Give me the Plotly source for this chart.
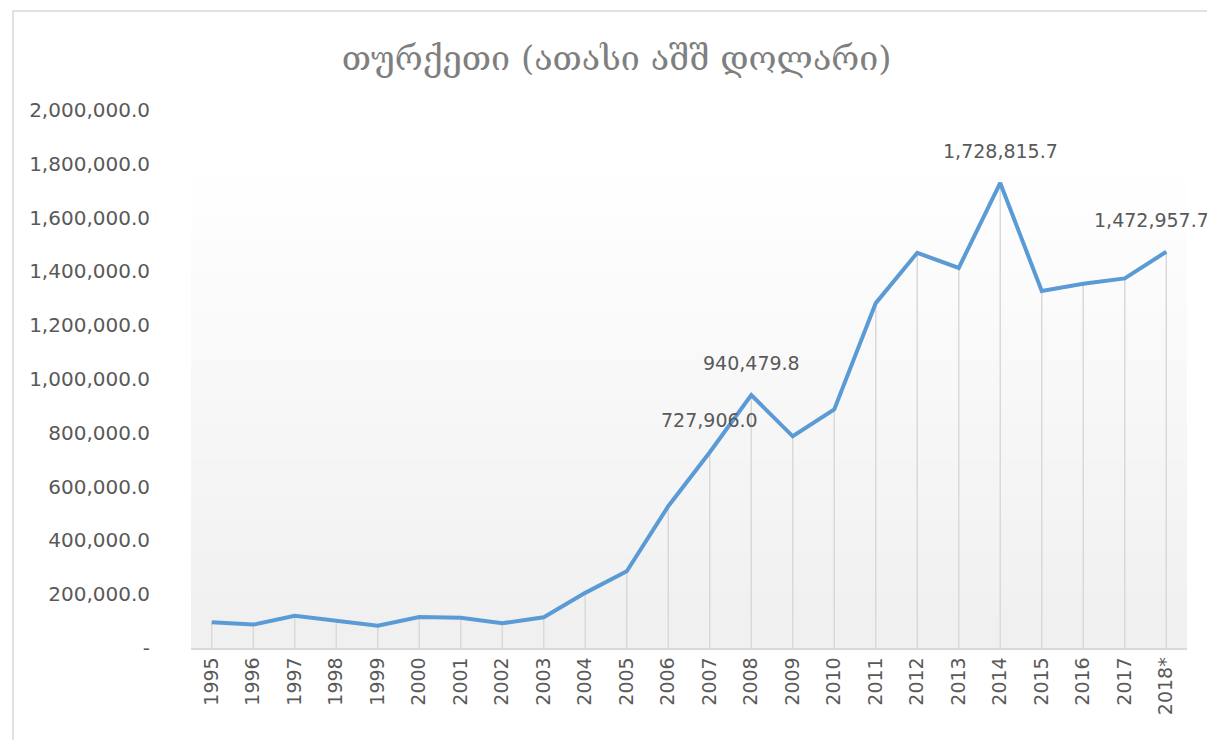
import plotly.graph_objects as go

years = ["1995", "1996", "1997", "1998", "1999", "2000", "2001", "2002",
         "2003", "2004", "2005", "2006", "2007", "2008", "2009", "2010",
         "2011", "2012", "2013", "2014", "2015", "2016", "2017", "2018*"]
values = [95600, 87000, 120000, 102000, 83000, 115000, 112000, 92000,
          114000, 205000, 285000, 527000, 727906.0, 940479.8, 787000, 887000,
          1282000, 1469000, 1413000, 1728815.7, 1327000, 1354000, 1374000, 1472957.7]
labelled = ["2007", "2008", "2014", "2018*"]
ytick_vals = [0, 200000, 400000, 600000, 800000, 1000000,
              1200000, 1400000, 1600000, 1800000, 2000000]

title = "თურქეთი (ათასი აშშ დოლარი)"
font = "DejaVu Sans"
grey_text = "#595959"

W, H = 1215, 740
L, R, T, B = 183, 36, 102, 100


def fmt(v):
    return "-" if v == 0 else f"{v:,.1f}"


fig = go.Figure()

# drop lines from each point to the axis
fig.add_trace(go.Scatter(
    x=years, y=values, mode="markers",
    marker=dict(size=0.1, color="rgba(0,0,0,0)"),
    error_y=dict(type="data", symmetric=False, array=[0] * len(values),
                 arrayminus=values, color="#D9D9D9", thickness=1.5, width=0),
    hoverinfo="skip", showlegend=False,
))

fig.add_trace(go.Scatter(
    x=years, y=values, mode="lines",
    line=dict(color="#5B9BD5", width=4),
    showlegend=False,
))

# gradient plot-area background
top_px = 170
y_top = (H - B - top_px) / (H - T - B)
n = 40
for i in range(n):
    c = int(255 - (255 - 240) * (i + 0.5) / n)
    fig.add_shape(type="rect", xref="paper", yref="paper", layer="below",
                  x0=0, x1=1, y0=y_top * (1 - (i + 1) / n), y1=y_top * (1 - i / n) + 0.001,
                  fillcolor=f"rgb({c},{c},{c})", line=dict(width=0))

# outer chart border
pw, ph = W - L - R, H - T - B
fig.add_shape(type="rect", xref="paper", yref="paper", layer="below",
              x0=(5 - L) / pw, x1=(1208 - L) / pw,
              y0=(H - B - 736) / ph, y1=(H - B - 3) / ph,
              line=dict(color="#D9D9D9", width=1.5), fillcolor="rgba(0,0,0,0)")

shifts = {"2018*": -15}
for yr in labelled:
    i = years.index(yr)
    fig.add_annotation(x=i, y=values[i], text=fmt(values[i]), showarrow=False,
                       xshift=shifts.get(yr, 0), yshift=32,
                       font=dict(family=font, size=19, color=grey_text))

fig.update_layout(
    width=W, height=H,
    margin=dict(l=L, r=R, t=T, b=B),
    paper_bgcolor="white", plot_bgcolor="rgba(0,0,0,0)",
    title=dict(text=title, x=0.501, xref="container", xanchor="center",
               y=1 - 50 / H, yanchor="middle",
               font=dict(family="DejaVu Serif, DejaVu Sans", size=34, color="#7F7F7F")),
    xaxis=dict(type="category", range=[-0.5, len(years) - 0.5],
               showgrid=False, showline=True, linecolor="#D9D9D9", linewidth=1.5,
               tickangle=-90, ticks="", tickfont=dict(family=font, size=19, color=grey_text)),
    yaxis=dict(range=[0, 2000000], showgrid=False, zeroline=False, showline=False,
               tickvals=ytick_vals, ticktext=[fmt(v) for v in ytick_vals],
               ticks="", ticklabelstandoff=40,
               tickfont=dict(family=font, size=20, color=grey_text)),
)

fig.write_html("out.html")
